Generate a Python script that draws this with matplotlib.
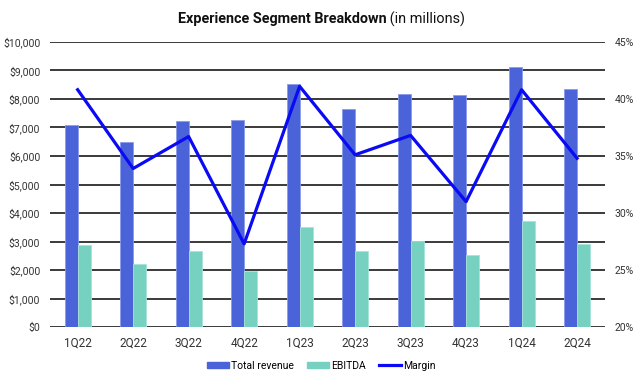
import matplotlib
matplotlib.use("Agg")
import matplotlib.pyplot as plt
from matplotlib.patches import Patch
from matplotlib.lines import Line2D
from matplotlib.ticker import FuncFormatter, MultipleLocator
import numpy as np

# datos (millones de USD)
trimestres = ["1Q22", "2Q22", "3Q22", "4Q22", "1Q23", "2Q23", "3Q23", "4Q23", "1Q24", "2Q24"]
ingresos = [7070, 6500, 7230, 7250, 8530, 7630, 8170, 8140, 9100, 8350]
ebitda = [2880, 2200, 2660, 1980, 3500, 2680, 3020, 2530, 3720, 2930]
margen = [40.8, 33.9, 36.7, 27.3, 41.1, 35.1, 36.8, 31.0, 40.8, 34.8]

AZUL = "#4A63D8"
VERDE = "#76D1C0"
LINEA = "#0A0AF5"
plt.rcParams["font.family"] = ["Roboto", "DejaVu Sans"]

fig = plt.figure(figsize=(6.4, 3.83), dpi=100)
ax = fig.add_axes([0.078, 0.1455, 0.867, 0.7455])
x = np.arange(len(trimestres))
w = 0.235

ax.bar(x - w / 2, ingresos, w, color=AZUL, edgecolor="#8A9BEA", linewidth=0.6, zorder=3)
ax.bar(x + w / 2, ebitda, w, color=VERDE, edgecolor="#A8E3D8", linewidth=0.6, zorder=3)
ax.set_xlim(-0.5, len(trimestres) - 0.5)
ax.set_ylim(0, 10000)
ax.yaxis.set_major_locator(MultipleLocator(1000))
ax.yaxis.set_major_formatter(FuncFormatter(lambda v, p: f"${v:,.0f}"))
ax.set_xticks(x, trimestres)
ax.grid(axis="y", color="#3A3A3A", linewidth=1.4, zorder=0)
ax.set_axisbelow(True)
for s in ax.spines.values():
    s.set_visible(False)
ax.tick_params(axis="y", length=0, pad=7, labelsize=7.5, labelcolor="#333333")
ax.tick_params(axis="x", length=0, pad=7, labelsize=8.5, labelcolor="#333333")

ax2 = ax.twinx()
ax2.plot(x, margen, color=LINEA, linewidth=2.3, zorder=4)
ax2.set_ylim(20, 45)
ax2.yaxis.set_major_locator(MultipleLocator(5))
ax2.yaxis.set_major_formatter(FuncFormatter(lambda v, p: f"{v:.0f}%"))
for s in ax2.spines.values():
    s.set_visible(False)
ax2.tick_params(axis="y", length=0, pad=7, labelsize=7.5, labelcolor="#333333")

# titulo: parte en negrita + parte normal
fig.canvas.draw()
r = fig.canvas.get_renderer()
t1 = fig.text(0, 0.950, "Experience Segment Breakdown", fontsize=10.4, fontweight="bold",
              ha="left", va="center", color="#111111")
t2 = fig.text(0, 0.950, " (in millions)", fontsize=10.4, ha="left", va="center", color="#111111")
w1 = t1.get_window_extent(r).width
w2 = t2.get_window_extent(r).width
x0 = 321.5 - (w1 + w2) / 2
t1.set_x(x0 / 640)
t2.set_x((x0 + w1) / 640)

handles = [Patch(color=AZUL), Patch(color=VERDE), Line2D([0], [0], color=LINEA, linewidth=2.3)]
fig.legend(handles, ["Total revenue", "EBITDA", "Margin"], loc="center", bbox_to_anchor=(0.502, 0.045),
           ncol=3, frameon=False, fontsize=7.5, handlelength=2.1, handleheight=0.55,
           handletextpad=0.2, columnspacing=1.3)

fig.savefig("out.png", dpi=100)
